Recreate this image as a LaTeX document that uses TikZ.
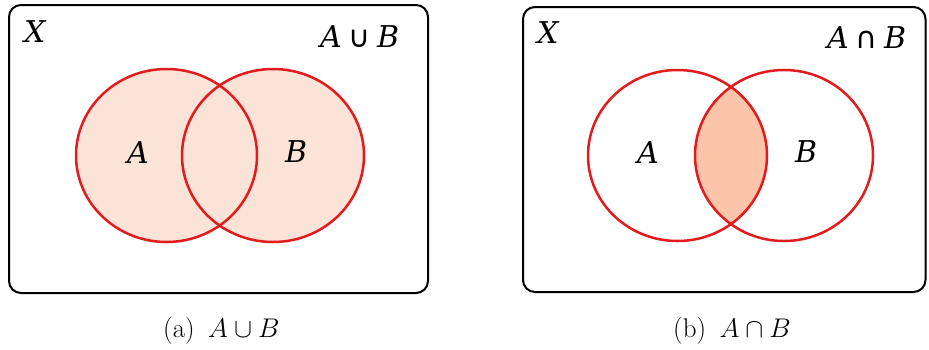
\RequirePackage{fix-cm}
\documentclass[tikz,border=0pt]{standalone}
\usepackage{fontspec}
\newfontfamily\dvs{DejaVu Serif}
\newfontfamily\dvsans{DejaVu Sans}
\definecolor{vred}{RGB}{226,28,30}
\definecolor{ufill}{RGB}{251,228,215}
\definecolor{ifill}{RGB}{252,196,168}
\begin{document}
\begin{tikzpicture}[x=1pt,y=-1pt,
  frame/.style={draw=black,line width=2pt,rounded corners=12pt},
  setline/.style={draw=vred,line width=2.5pt},
  lab/.style={anchor=base west,inner sep=0pt,font=\dvs\itshape\fontsize{30}{32}\selectfont},
  captext/.style={anchor=base west,inner sep=0pt,font=\fontsize{27}{29}\selectfont}]
\useasboundingbox (0,0) rectangle (929,349);
% ---- left panel: union
\fill[ufill] (166.5,155.5) ellipse [x radius=90.5,y radius=86.5];
\fill[ufill] (273,155.5) ellipse [x radius=91,y radius=86.5];
\draw[setline] (166.5,155.5) ellipse [x radius=90.5,y radius=86.5];
\draw[setline] (273,155.5) ellipse [x radius=91,y radius=86.5];
\draw[frame] (9,5) rectangle (428,293);
\node[lab] (xl) at (24,42) {X};
\node[lab] (ul) at (320,47) {A\hspace{0.22em}{\upshape\dvsans ∪}\hspace{0.22em}B};
\node[lab] (al) at (127,163) {A};
\node[lab] (bl) at (285,162) {B};
% ---- right panel: intersection
\begin{scope}
  \clip (677.5,155.5) ellipse [x radius=89.5,y radius=85.5];
  \fill[ifill] (784,155.5) ellipse [x radius=89,y radius=85.5];
\end{scope}
\draw[setline] (677.5,155.5) ellipse [x radius=89.5,y radius=85.5];
\draw[setline] (784,155.5) ellipse [x radius=89,y radius=85.5];
\draw[frame] (523,7) rectangle (925.5,292);
\node[lab] (xr) at (537,43) {X};
\node[lab] (ir) at (827,48) {A\hspace{0.22em}{\upshape\dvsans ∩}\hspace{0.22em}B};
\node[lab] (ar) at (637,163) {A};
\node[lab] (br) at (795,162) {B};
% ---- captions
\node[captext] (ca) at (163,337) {(a)\hspace{0.5em}$A\cup B$};
\node[captext] (cb) at (673,337) {(b)\hspace{0.5em}$A\cap B$};
\end{tikzpicture}
\end{document}
